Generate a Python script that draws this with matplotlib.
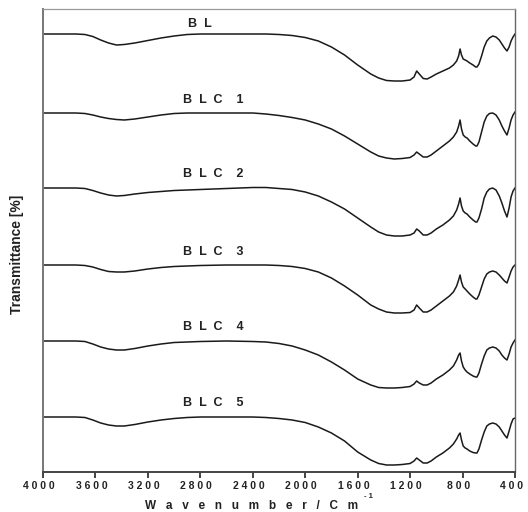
import numpy as np
import matplotlib
matplotlib.use("Agg")
from matplotlib import pyplot as plt
from matplotlib import transforms

plt.rcParams['font.family'] = ['Liberation Sans', 'DejaVu Sans']

# wavenumber knots (cm-1), shared by all spectra
wn = [4000, 3750, 3680, 3620, 3560, 3500, 3440, 3380, 3300, 3200, 3100, 3000,
      2900, 2800, 2600, 2400, 2300, 2200, 2100, 2000, 1900, 1800, 1700, 1600,
      1500, 1440, 1380, 1320, 1260, 1200, 1170, 1150, 1130, 1100, 1070, 1040,
      1000, 950, 900, 870, 845, 830, 819, 808, 795, 780, 766, 745, 720, 700,
      690, 675, 655, 635, 615, 595, 570, 545, 520, 500, 480, 461, 445, 430,
      415, 400]

# drop in transmittance below each spectrum's baseline
bl = [0, 0, 0.5, 2.5, 6, 9, 11, 10.5, 9, 6.5, 4, 2,
      0.5, 0, 0, 0, 0, 0.5, 1.5, 3.5, 7, 13, 21, 31,
      40, 44, 46.5, 47, 47, 46, 43, 37, 40, 44.5, 45, 43,
      40, 37, 34, 31, 27, 22, 15, 21, 25, 26, 27, 29, 31, 33,
      33, 30, 22, 13, 7, 4, 2, 3, 6, 10, 14, 17, 13, 7,
      3, 0]
blc1 = [0, 0, 0.5, 2, 4, 5.5, 6.5, 7, 6, 4, 2, 0.5,
        0, 0, 0, 0, 1, 2.5, 4.5, 7, 11, 16, 23, 31,
        39, 43, 45, 46, 45.5, 44.5, 42, 39, 41, 44, 44, 42,
        38, 33, 28, 24, 19, 13, 7, 16, 22, 24, 25, 28, 31, 33,
        33, 29, 19, 9, 3, 0.5, 0, 2, 7, 13, 18, 22, 15, 7,
        2, -1]
blc2 = [0, 0, 0.5, 2.5, 5, 7, 8, 7.5, 6, 4.5, 3.5, 2.5,
        2, 1.5, 0.5, -0.5, -0.5, 0.5, 1.5, 4, 8, 14, 21, 30,
        39, 44, 47, 48, 48, 47, 45, 41, 43, 47, 47, 45,
        41, 37, 32, 28, 22, 16, 10, 18, 23, 25, 26, 29, 32, 34,
        34, 30, 21, 10, 4, 1, 0, 2, 8, 15, 23, 29, 20, 9,
        3, 0]
blc3 = [0, 0, 0.5, 2, 4.5, 6.5, 7, 7, 6, 4, 2.5, 1.5,
        1, 0.5, 0, 0, 0, 0.5, 1.5, 3.5, 7, 13, 21, 30,
        40, 44, 47, 48, 48, 47.5, 45, 40, 43, 47, 47, 45,
        41, 36, 31, 27, 21, 15, 10, 17, 22, 24, 26, 29, 32, 34,
        34, 30, 22, 14, 9, 7, 6, 7, 10, 13, 16, 18, 12, 6,
        2, 0]
blc4 = [0, 0, 0.5, 3, 6, 8, 9, 9, 7.5, 5, 3, 1.5,
        1, 0.5, 0, 0.5, 1, 2.5, 5, 9, 14, 21, 29, 38,
        44, 46.5, 47, 47, 46.5, 45.5, 43, 40, 42, 44, 44, 42,
        38, 34, 29, 25, 19, 14, 12, 20, 26, 29, 31, 33, 35, 36,
        36, 32, 23, 15, 9, 7, 6, 7, 10, 14, 17, 19, 13, 6,
        2, -1]
blc5 = [0, 0, 0.5, 3, 6, 8, 9, 9, 7.5, 5, 3, 1.5,
        0.5, 0, 0, 0, 0.5, 1.5, 3, 5.5, 10, 16, 24, 35,
        43, 46.5, 48, 48, 47.5, 46.5, 44, 41, 43, 46, 46, 44,
        40, 36, 31, 27, 22, 18, 16, 23, 29, 31, 32, 34, 35.5, 36,
        36, 32, 23, 15, 9, 7, 6, 7, 10, 14, 18, 21, 14, 7,
        2, 1]

spectra = [bl, blc1, blc2, blc3, blc4, blc5]
names = ["B  L", "B  L  C    1", "B  L  C    2", "B  L  C    3", "B  L  C    4", "B  L  C    5"]
baselines = [438, 359, 284, 207, 131, 55]   # stacking offsets
label_y = [448, 372, 298, 220, 145, 69]
label_wn = [2800, 2700, 2700, 2700, 2700, 2700]

xticks = [4000, 3600, 3200, 2800, 2400, 2000, 1600, 1200, 800, 400]

fig = plt.figure(figsize=(5.28, 5.12), dpi=100)
ax = fig.add_axes([43 / 528, 40 / 512, 472 / 528, 463 / 512])

for d, base, name, ly, lx in zip(spectra, baselines, names, label_y, label_wn):
    y = base - np.array(d)
    ax.plot(wn, y, color='#1a1a1a', lw=1.1, solid_joinstyle='round')
    ax.text(lx, ly, name, ha='center', va='center', fontsize=9,
            fontweight='bold', color='#222222')

ax.set_xlim(4000, 400)
ax.set_ylim(0, 463)
ax.set_yticks([])
ax.set_xticks(xticks, [" ".join(str(t)) for t in xticks])
ax.tick_params(axis='x', direction='out', length=4, width=1.2, pad=2.5,
               labelsize=7.5, colors='#222222')
# tick labels in the original sit a few px left of their ticks
shift = transforms.ScaledTranslation(-4 / 100, 0, fig.dpi_scale_trans)
for lab in ax.get_xticklabels():
    lab.set_fontweight('bold')
    lab.set_transform(lab.get_transform() + shift)

ax.spines['left'].set_color('#777777')
ax.spines['left'].set_linewidth(1.4)
ax.spines['bottom'].set_color('#444444')
ax.spines['bottom'].set_linewidth(1.4)
ax.spines['top'].set_color('#999999')
ax.spines['top'].set_linewidth(0.9)
ax.spines['right'].set_color('#666666')
ax.spines['right'].set_linewidth(1.0)

xlab = "   ".join("Wavenumber/Cm")
fig.text(252 / 528, 1 - 506 / 512, xlab, ha='center', va='center',
         fontsize=8.5, fontweight='bold', color='#222222')
fig.text(368 / 528, 1 - 496 / 512, "- 1", ha='center', va='center',
         fontsize=5.5, fontweight='bold', color='#222222')
fig.text(17 / 528, 1 - 254 / 512, "Transmittance [%]", rotation=90,
         ha='center', va='center', fontsize=10, fontweight='bold',
         color='#222222')

plt.savefig('out.png', dpi=100)
